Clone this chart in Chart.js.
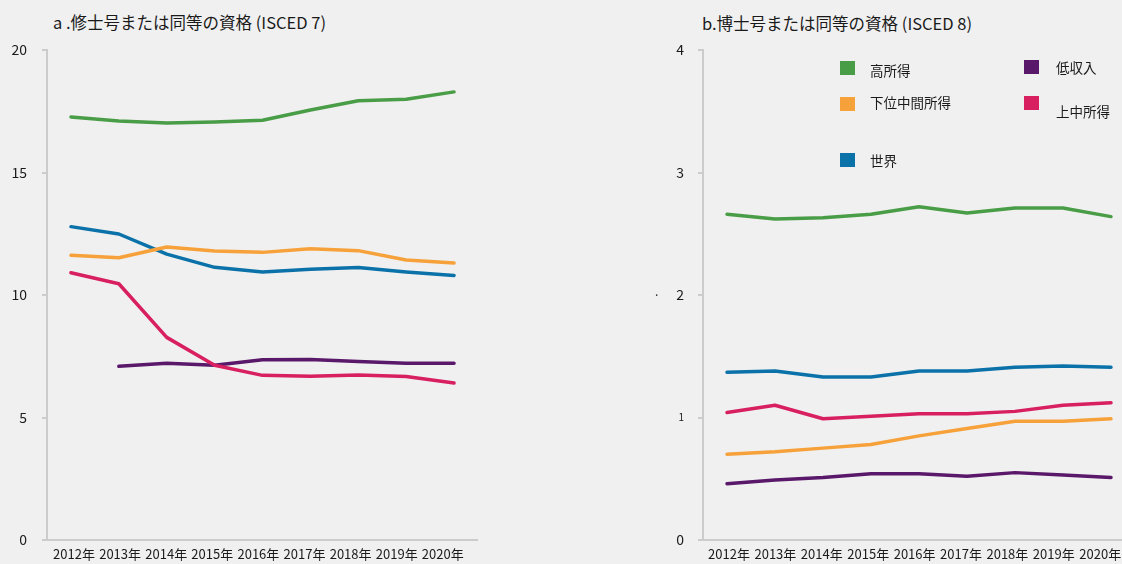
<!DOCTYPE html>
<html>
<head>
<meta charset="utf-8">
<script src="https://cdn.jsdelivr.net/npm/chart.js@4.4.1/dist/chart.umd.min.js"></script>
<style>
  html, body { margin: 0; padding: 0; background: #f0f0f0; overflow: hidden; }
  body { width: 1122px; height: 564px; position: relative; font-family: "Noto Sans CJK JP", "Noto Sans", sans-serif; color: #1a1a1a; }
  canvas { position: absolute; top: 0; }
  .title { position: absolute; font-size: 16.5px; white-space: nowrap; }
  .sw { position: absolute; width: 15px; height: 14px; }
  .lg { position: absolute; font-size: 13.5px; white-space: nowrap; line-height: 16px; }
</style>
</head>
<body>
<div class="title" style="left:53px; top:10px;">a .修士号または同等の資格 (ISCED 7)</div>
<div class="title" style="left:702px; top:11px;">b.博士号または同等の資格 (ISCED 8)</div>
<canvas id="chartA" width="478" height="564" style="left:0;"></canvas>
<canvas id="chartB" width="515" height="564" style="left:620px;"></canvas>
<div class="lg" style="left:655px; top:283px; font-size:12px;">.</div>
<div id="legend"></div>
<script>
// ---------- Data ----------
const YEARS = ['2012年', '2013年', '2014年', '2015年', '2016年', '2017年', '2018年', '2019年', '2020年'];

// a. ISCED 7
const A_HIGH      = [17.27, 17.10, 17.02, 17.06, 17.13, 17.55, 17.93, 17.99, 18.29];
const A_LOWER_MID = [11.62, 11.52, 11.96, 11.80, 11.74, 11.89, 11.81, 11.43, 11.31];
const A_WORLD     = [12.79, 12.49, 11.67, 11.13, 10.94, 11.05, 11.12, 10.94, 10.80];
const A_UPPER_MID = [10.91, 10.46, 8.27, 7.13, 6.72, 6.68, 6.73, 6.67, 6.41];
const A_LOW       = [null, 7.09, 7.21, 7.13, 7.36, 7.37, 7.29, 7.21, 7.21];

// b. ISCED 8
const B_HIGH      = [2.66, 2.62, 2.63, 2.66, 2.72, 2.67, 2.71, 2.71, 2.64];
const B_WORLD     = [1.37, 1.38, 1.33, 1.33, 1.38, 1.38, 1.41, 1.42, 1.41];
const B_UPPER_MID = [1.04, 1.10, 0.99, 1.01, 1.03, 1.03, 1.05, 1.10, 1.12];
const B_LOWER_MID = [0.70, 0.72, 0.75, 0.78, 0.85, 0.91, 0.97, 0.97, 0.99];
const B_LOW       = [0.46, 0.49, 0.51, 0.54, 0.54, 0.52, 0.55, 0.53, 0.51];

const COLORS = {
  high: '#4a9d47',
  lowerMid: '#f7a13a',
  world: '#0b72a9',
  upperMid: '#d81f5f',
  low: '#5a186a'
};

const LEGEND = [
  { label: '高所得', color: COLORS.high, sx: 840, sy: 61, tx: 870, ty: 62 },
  { label: '低収入', color: COLORS.low, sx: 1024, sy: 60, tx: 1056, ty: 59 },
  { label: '下位中間所得', color: COLORS.lowerMid, sx: 840, sy: 97, tx: 870, ty: 94 },
  { label: '上中所得', color: COLORS.upperMid, sx: 1024, sy: 96, tx: 1056, ty: 103 },
  { label: '世界', color: COLORS.world, sx: 840, sy: 153, tx: 870, ty: 152 }
];

// ---------- Legend (HTML) ----------
const legendEl = document.getElementById('legend');
LEGEND.forEach(item => {
  const sw = document.createElement('div');
  sw.className = 'sw';
  sw.style.left = item.sx + 'px';
  sw.style.top = item.sy + 'px';
  sw.style.background = item.color;
  legendEl.appendChild(sw);
  const t = document.createElement('div');
  t.className = 'lg';
  t.style.left = item.tx + 'px';
  t.style.top = item.ty + 'px';
  t.textContent = item.label;
  legendEl.appendChild(t);
});

// ---------- Charts ----------
const FONT = '"Noto Sans CJK JP", "Noto Sans", sans-serif';
const AXIS = '#cccccc';

function series(data, color) {
  return {
    data,
    borderColor: color,
    backgroundColor: color,
    borderWidth: 3.5,
    pointRadius: 0,
    tension: 0,
    fill: false,
    spanGaps: false,
    borderCapStyle: 'round',
    borderJoinStyle: 'round'
  };
}

// year labels in the original sit a little tighter than the data points,
// so they go on their own bottom axis (labelStart / labelStep in px)
function makeChart(id, datasets, yMax, yStep, yWidth, tickPad, tickFont, labelStart, labelStep) {
  const canvas = document.getElementById(id);
  const plotW = canvas.width - yWidth;
  const lMin = -(labelStart - yWidth) / labelStep;
  const lMax = lMin + plotW / labelStep;
  return new Chart(canvas, {
    type: 'line',
    data: { labels: YEARS, datasets },
    options: {
      responsive: false,
      animation: false,
      layout: { padding: { top: 50, left: 0, right: 0, bottom: 0 } },
      plugins: { legend: { display: false }, tooltip: { enabled: false } },
      scales: {
        x: { display: false, offset: true },
        xl: {
          type: 'linear',
          position: 'bottom',
          min: lMin,
          max: lMax,
          grid: { display: false, drawTicks: false },
          border: { display: true, color: AXIS, width: 2 },
          ticks: {
            stepSize: 1,
            includeBounds: false,
            autoSkip: false,
            maxRotation: 0,
            padding: 6,
            color: '#1a1a1a',
            font: { family: FONT, size: 13 },
            callback: (v) => (Number.isInteger(v) && YEARS[v]) ? YEARS[v] : ''
          },
          afterFit: (s) => { s.height = 24; }
        },
        y: {
          min: 0,
          max: yMax,
          grid: { display: true, drawOnChartArea: false, drawTicks: true, tickLength: 5, color: AXIS, lineWidth: 2 },
          border: { display: true, color: AXIS, width: 2 },
          ticks: { stepSize: yStep, color: '#1a1a1a', padding: tickPad, font: tickFont },
          afterFit: (s) => { s.width = yWidth; }
        }
      }
    }
  });
}

makeChart('chartA', [
  series(A_HIGH, COLORS.high),
  series(A_LOWER_MID, COLORS.lowerMid),
  series(A_WORLD, COLORS.world),
  series(A_UPPER_MID, COLORS.upperMid),
  series(A_LOW, COLORS.low)
], 20, 5, 47, 15, { family: FONT, size: 14 }, 74, 46.1);

// the "1" label on the right chart is printed smaller in the original
makeChart('chartB', [
  series(B_HIGH, COLORS.high),
  series(B_WORLD, COLORS.world),
  series(B_UPPER_MID, COLORS.upperMid),
  series(B_LOWER_MID, COLORS.lowerMid),
  series(B_LOW, COLORS.low)
], 4, 1, 83, 14, (ctx) => ({ family: FONT, size: ctx.tick && ctx.tick.value === 1 ? 10 : 14 }), 109, 46.4);
</script>
</body>
</html>
